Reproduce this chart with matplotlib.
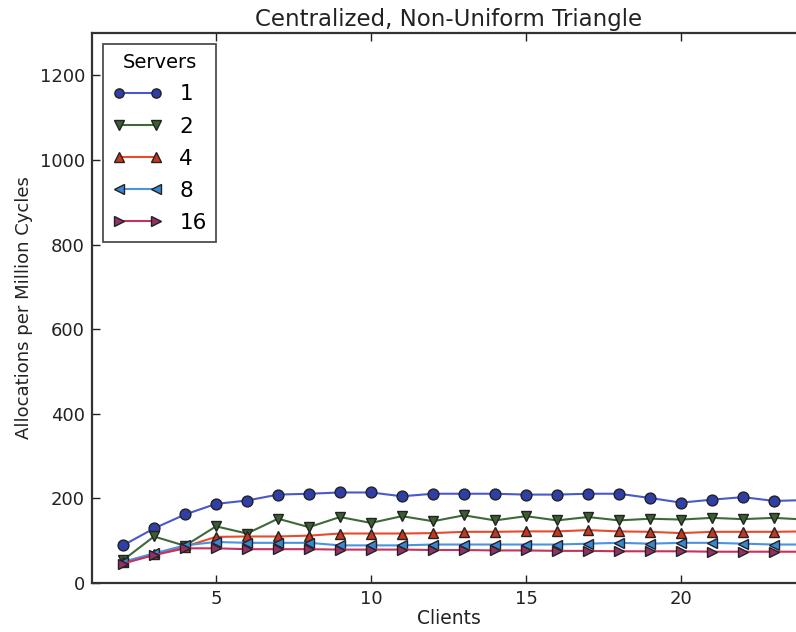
import numpy as np
import matplotlib
matplotlib.use('Agg')
import matplotlib.pyplot as plt

clients = list(range(2, 25))
servers = ['1', '2', '4', '8', '16']

alloc_1 = [89, 129, 162, 187, 195, 209, 211, 214, 214, 205, 211, 211, 211,
           209, 209, 211, 211, 201, 190, 197, 203, 194, 196]
alloc_2 = [54, 110, 88, 134, 117, 152, 132, 156, 142, 158, 146, 160, 148,
           158, 148, 156, 148, 152, 150, 154, 151, 154, 150]
alloc_4 = [50, 68, 86, 109, 110, 110, 112, 117, 117, 117, 118, 121, 121,
           122, 122, 125, 122, 121, 118, 121, 121, 121, 122]
alloc_8 = [50, 70, 89, 97, 95, 95, 95, 89, 89, 89, 91, 91, 91,
           91, 91, 93, 95, 93, 95, 95, 93, 91, 91]
alloc_16 = [46, 66, 82, 82, 80, 80, 80, 79, 79, 79, 78, 78, 77,
            77, 76, 76, 75, 75, 75, 74, 74, 74, 74]

series = [alloc_1, alloc_2, alloc_4, alloc_8, alloc_16]
markers = ['o', 'v', '^', '<', '>']
line_colors = ['#4859cf', '#3e6a38', '#ea4a2a', '#4a92e2', '#c8305e']
face_colors = ['#2f3fa6', '#3b5f30', '#c8361f', '#3a86d6', '#933068']

plt.rcParams['font.family'] = ['DejaVu Sans']
fig = plt.figure(figsize=(7.96, 6.32), dpi=100)
# axes run a little past the right edge, as in the cropped original
ax = fig.add_axes([0.1156, 0.0775, 0.8957, 0.8703])

for vals, m, lc, fc, lab in zip(series, markers, line_colors, face_colors, servers):
    ax.plot(clients, vals, color=lc, marker=m, markersize=7.8, linewidth=1.5,
            markerfacecolor=fc, markeredgecolor='#222222', markeredgewidth=1.0,
            label=lab, clip_on=False)

ax.set_xlim(1, 24)
ax.set_ylim(0, 1300)
ax.set_xticks([5, 10, 15, 20])
ax.set_yticks(range(0, 1201, 200))
ax.tick_params(direction='in', length=6, width=1, top=True, right=True,
               labelsize=13, colors='#222222', pad=5)
for s in ax.spines.values():
    s.set_linewidth(1.6)
    s.set_color('#333333')

ax.set_title('Centralized, Non-Uniform Triangle', fontsize=16.5, color='#222222', pad=5)
ax.set_xlabel('Clients', fontsize=13.5, color='#222222', labelpad=1)
ax.set_ylabel('Allocations per Million Cycles', fontsize=13, color='#222222', labelpad=5)

leg = ax.legend(title='Servers', loc='upper left', numpoints=2, fontsize=15.5,
                title_fontsize=14, fancybox=False, edgecolor='#222222',
                borderaxespad=0.5, handlelength=2.3, labelspacing=0.56,
                markerscale=0.85, borderpad=0.45)
leg.get_frame().set_linewidth(1.3)

fig.savefig('out.png', dpi=100)
